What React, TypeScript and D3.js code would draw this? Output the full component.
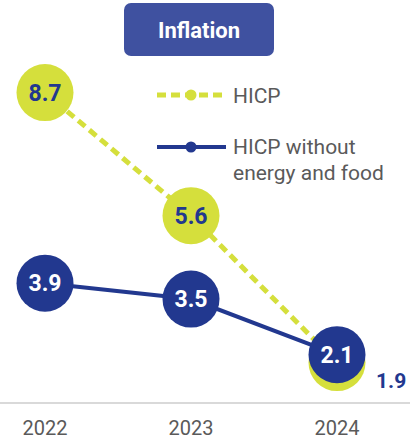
import React from 'react';
import * as d3 from 'd3';

const years = ['2022', '2023', '2024'];
const hicp = [8.7, 5.6, 1.9];
const hicpCore = [3.9, 3.5, 2.1];
const legendLabels = ['HICP', ['HICP without', 'energy and food']];

const LIME = '#d5df3c';
const NAVY = '#22388f';
const GREY = '#5a5a5a';
const FONT = 'Roboto, "Noto Sans", sans-serif';

const W = 417;
const H = 440;
const R = 28.5;

const App: React.FC = () => {
  const x = d3.scalePoint<string>().domain(years).range([45, 337]);
  const y = d3.scaleLinear().domain([0, 10]).range([438, 41]);

  const line = d3
    .line<number>()
    .x((_, i) => x(years[i]) as number)
    .y(d => y(d));

  const last = years.length - 1;

  return (
    <svg
      width={W}
      height={H}
      style={{ position: 'absolute', left: 0, top: 0, fontFamily: FONT }}
    >
      {/* title */}
      <rect x={124} y={3} width={150} height={53} rx={7} fill="#3f51a0" />
      <text x={199} y={38} textAnchor="middle" fill="#fff" fontSize={22} fontWeight={700}>
        Inflation
      </text>

      {/* axis */}
      <line x1={0} x2={410} y1={403} y2={403} stroke="#d9d9d9" strokeWidth={2} />
      {years.map(yr => (
        <text key={yr} x={x(yr)} y={435} textAnchor="middle" fill={GREY} fontSize={20}>
          {yr}
        </text>
      ))}

      {/* legend */}
      <g>
        <line x1={157} x2={226} y1={95} y2={95} stroke={LIME} strokeWidth={5} strokeDasharray="9 5" />
        <circle cx={191} cy={95} r={5.5} fill={LIME} />
        <text x={233} y={103} fill={GREY} fontSize={21}>{legendLabels[0] as string}</text>
        <line x1={157} x2={226} y1={147} y2={147} stroke={NAVY} strokeWidth={4} />
        <circle cx={191} cy={147} r={5.5} fill={NAVY} />
        {(legendLabels[1] as string[]).map((t, i) => (
          <text key={t} x={233} y={154 + i * 26} fill={GREY} fontSize={21}>{t}</text>
        ))}
      </g>

      {/* lines */}
      <path d={line(hicp) || ''} fill="none" stroke={LIME} strokeWidth={5} strokeDasharray="9 5.5" />
      <path d={line(hicpCore) || ''} fill="none" stroke={NAVY} strokeWidth={4} />

      {/* HICP bubbles */}
      {hicp.map((v, i) => (
        <g key={'h' + i}>
          <circle cx={x(years[i])} cy={y(v)} r={R} fill={LIME} />
          {i < last && (
            <text x={x(years[i])} y={y(v) + 8} textAnchor="middle" fill={NAVY} fontSize={23} fontWeight={700}>
              {v.toFixed(1)}
            </text>
          )}
        </g>
      ))}

      {/* core bubbles */}
      {hicpCore.map((v, i) => (
        <g key={'c' + i}>
          <circle cx={x(years[i])} cy={y(v)} r={R} fill={NAVY} />
          <text x={x(years[i])} y={y(v) + 8} textAnchor="middle" fill="#fff" fontSize={23} fontWeight={700}>
            {v.toFixed(1)}
          </text>
        </g>
      ))}

      {/* HICP last value label outside */}
      <text x={(x(years[last]) as number) + 39} y={y(hicp[last]) + 25} fill={NAVY} fontSize={21} fontWeight={700}>
        {hicp[last].toFixed(1)}
      </text>
    </svg>
  );
};

export default App;
